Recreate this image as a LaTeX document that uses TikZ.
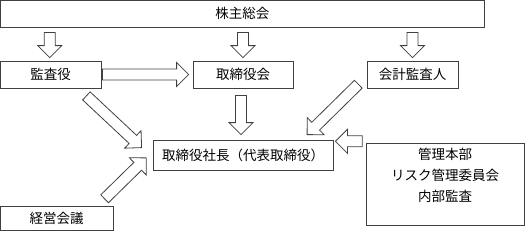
\documentclass[tikz,border=0pt]{standalone}
\usepackage{fontspec}
\setmainfont{Noto Sans CJK JP}
\usetikzlibrary{calc,positioning}

\def\fs{5.5pt}% half shaft
\def\fw{12pt}% half head
\def\fh{12pt}% head length

\tikzset{
  orgbox/.style={draw=black!75, line width=0.8pt, inner sep=0pt,
    font=\fontsize{13.5pt}{21pt}\selectfont},
  fatarrow/.style={draw=black!75, line width=0.8pt, line join=miter,
    to path={
      ($(\tikztostart)!\fs!90:(\tikztotarget)$)
      -- ($(\tikztotarget)!\fh!(\tikztostart)!\fs!-90:(\tikztostart)$)
      -- ($(\tikztotarget)!\fh!(\tikztostart)!\fw!-90:(\tikztostart)$)
      -- (\tikztotarget)
      -- ($(\tikztotarget)!\fh!(\tikztostart)!\fw!90:(\tikztostart)$)
      -- ($(\tikztotarget)!\fh!(\tikztostart)!\fs!90:(\tikztostart)$)
      -- ($(\tikztostart)!\fs!-90:(\tikztotarget)$) -- cycle}}
}

\begin{document}
\begin{tikzpicture}[x=1pt, y=-1pt]
  \useasboundingbox (0,0) rectangle (531,231);

  % ---------- boxes ----------
  \node[orgbox, minimum width=483.5, minimum height=27] (soukai) at (242.25,13.5) {株主総会};
  \node[orgbox, minimum width=100.5, minimum height=27] (kansa) at (50.75,74.5) {監査役};
  \node[orgbox, minimum width=100, minimum height=27] (torikai) at (243,74.5) {取締役会};
  \node[orgbox, minimum width=91, minimum height=27] (kaikei) at (412.5,74.5) {会計監査人};
  \node[orgbox, minimum width=180, minimum height=30] (shacho) at (243,155) {取締役社長（代表取締役）};
  \node[orgbox, minimum width=158, minimum height=82] (kanri) at (445,184) {};
  \node[font=\fontsize{13.5pt}{21pt}\selectfont, align=center] (kanritxt)
    at ($(kanri.center)+(0,-8.6)$) {管理本部\\リスク管理委員会\\内部監査};
  \node[orgbox, minimum width=112.5, minimum height=24.5] (keiei) at (56.75,218.25) {経営会議};

  % ---------- arrow ends ----------
  \coordinate (a1) at ($(soukai.south -| kansa.center)+(-1,5)$);
  \coordinate (b1) at ($(kansa.north)+(-1,-3)$);
  \coordinate (a2) at ($(soukai.south -| torikai.center)+(0,5)$);
  \coordinate (b2) at ($(torikai.north)+(0,-3)$);
  \coordinate (a3) at ($(soukai.south -| kaikei.center)+(0,5)$);
  \coordinate (b3) at ($(kaikei.north)+(0,-3)$);
  \coordinate (a4) at ($(kansa.east)+(1,0)$);
  \coordinate (b4) at ($(torikai.west)+(-4,0)$);
  \coordinate (a5) at ($(torikai.south)+(-2,7)$);
  \coordinate (b5) at ($(shacho.north)+(-2,-5)$);
  \coordinate (a6) at ($(kansa.south east)+(-15,7.5)$);
  \coordinate (b6) at ($(shacho.north west)+(-11,8)$);
  \coordinate (a7) at ($(kaikei.south west)+(-8.3,-4.2)$);
  \coordinate (b7) at ($(shacho.north east)+(-26.3,-5)$);
  \coordinate (a8) at ($(kanri.north west)+(-3.3,-1.3)$);
  \coordinate (b8) at ($(shacho.north east)+(2,1.7)$);
  \coordinate (a9) at ($(keiei.north east)+(-8.8,-6.8)$);
  \coordinate (b9) at ($(shacho.north west)+(-6.3,18.3)$);

  % ---------- arrows ----------
  \foreach \i in {1,...,9}
    \draw[fatarrow] (a\i) to (b\i);
\end{tikzpicture}
\end{document}
